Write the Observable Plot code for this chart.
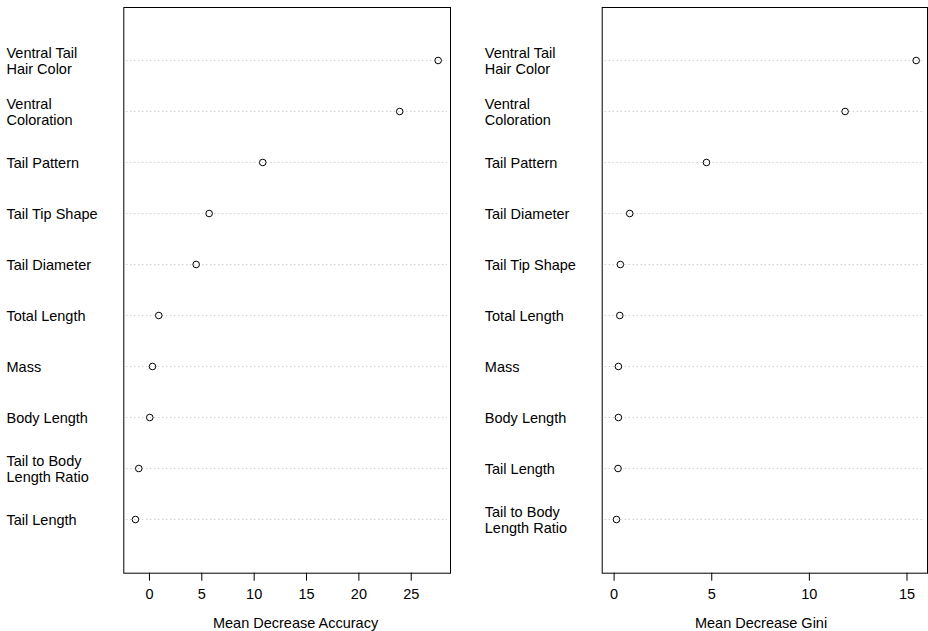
<!DOCTYPE html>
<html><head><meta charset="utf-8">
<script src="https://cdn.jsdelivr.net/npm/d3@7"></script>
<script src="https://cdn.jsdelivr.net/npm/@observablehq/plot@0.6"></script>
<style>
body{margin:0;background:#fff}
#chart{display:flex;width:928px;height:631px}
</style>
</head><body><div id="chart"></div><script>
const accuracyLabels = ["Ventral Tail\nHair Color", "Ventral\nColoration", "Tail Pattern", "Tail Tip Shape", "Tail Diameter", "Total Length", "Mass", "Body Length", "Tail to Body\nLength Ratio", "Tail Length"];
const accuracyValues = [27.57, 23.9, 10.82, 5.70, 4.46, 0.89, 0.29, 0.03, -1.02, -1.34];
const giniLabels = ["Ventral Tail\nHair Color", "Ventral\nColoration", "Tail Pattern", "Tail Diameter", "Tail Tip Shape", "Total Length", "Mass", "Body Length", "Tail Length", "Tail to Body\nLength Ratio"];
const giniValues = [15.47, 11.83, 4.73, 0.80, 0.32, 0.29, 0.22, 0.22, 0.20, 0.12];
const accuracyTicks = [0, 5, 10, 15, 20, 25];
const giniTicks = [0, 5, 10, 15];
const accuracyDomain = [-2.45, 28.75];
const giniDomain = [-0.61, 16.05];

function panel({labels, values, ticks, domain, title, marginLeft, marginRight, titleDx, labelX}) {
  const data = labels.map((label, i) => ({label, value: values[i]}));
  const fs = 14.5;
  return Plot.plot({
    width: 464, height: 631,
    marginTop: 7, marginBottom: 58.3, marginLeft, marginRight,
    style: {fontFamily: "'Liberation Sans', Arial, Helvetica, sans-serif", fontSize: fs + "px", background: "white", color: "black", overflow: "visible"},
    x: {domain, label: null},
    y: {type: "point", domain: labels, padding: 1, axis: null},
    marks: [
      Plot.ruleY(data, {y: "label", stroke: "#bdbdbd", strokeDasharray: "1,3", insetLeft: 3, insetRight: 3}),
      Plot.dot(data, {x: "value", y: "label", r: 3.3, stroke: "black", strokeWidth: 1, fill: "none"}),
      Plot.frame({stroke: "black"}),
      Plot.axisX({ticks, tickSize: 8, tickPadding: 8, label: null, fontSize: fs}),
      Plot.text(data, {y: "label", text: "label", frameAnchor: "left", textAnchor: "start", dx: labelX - marginLeft, lineHeight: 1.15, fontSize: fs}),
      Plot.text([title], {text: d => d, frameAnchor: "bottom", dx: titleDx, dy: 50.3, lineAnchor: "middle", fontSize: fs})
    ]
  });
}

const chart = document.getElementById("chart");
chart.append(panel({labels: accuracyLabels, values: accuracyValues, ticks: accuracyTicks, domain: accuracyDomain, title: "Mean Decrease Accuracy", marginLeft: 123.3, marginRight: 14, titleDx: 8.4, labelX: 6}));
chart.append(panel({labels: giniLabels, values: giniValues, ticks: giniTicks, domain: giniDomain, title: "Mean Decrease Gini", marginLeft: 137.7, marginRight: 1, titleDx: -3.8, labelX: 20.3}));
</script></body></html>
